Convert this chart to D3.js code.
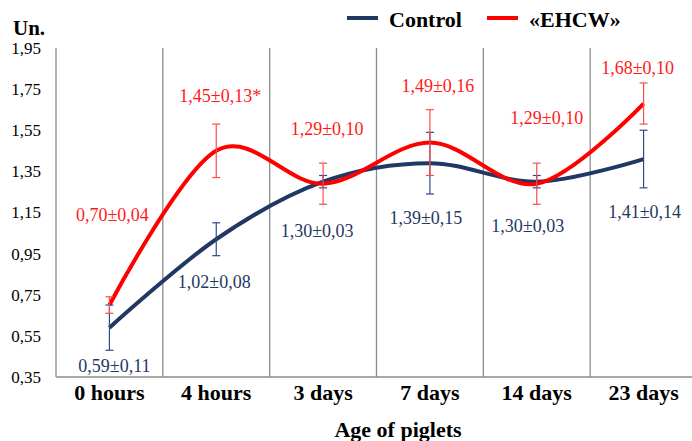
<!DOCTYPE html>
<html>
<head>
<meta charset="utf-8">
<script src="https://cdn.jsdelivr.net/npm/d3@7"></script>
<style>
  body { margin: 0; background: #fff; }
  svg { display: block; font-family: "Liberation Serif", "Times New Roman", serif; }
</style>
</head>
<body>
<svg width="692" height="441"></svg>
<script>
// chart data
const categories = ["0 hours", "4 hours", "3 days", "7 days", "14 days", "23 days"];
const controlMean = [0.59, 1.02, 1.30, 1.39, 1.30, 1.41];
const controlErr = [0.11, 0.08, 0.03, 0.15, 0.03, 0.14];
const ehcwMean = [0.70, 1.45, 1.29, 1.49, 1.29, 1.68];
const ehcwErr = [0.04, 0.13, 0.10, 0.16, 0.10, 0.10];
const ehcwMark = ["", "*", "", "", "", ""];
const yTicks = [0.35, 0.55, 0.75, 0.95, 1.15, 1.35, 1.55, 1.75, 1.95];

// label nudges (pixels) relative to each point
const ehcwLabelOffset = [[3, -84], [4, -49], [4, -49], [8, -51], [10, -60], [-6, -30]];
const controlLabelOffset = [[5, 44], [-2, 49], [-6, 55], [-4, 61], [-9, 50], [1, 59]];

const navy = "#1f3864";
const red = "#ff0000";
const grid = "#8c8c8c";

const svg = d3.select("svg");
const margin = { left: 56, right: 697, top: 48, bottom: 377 };

const x = d3.scaleBand().domain(categories).range([margin.left, margin.right]).padding(0);
const y = d3.scaleLinear().domain([0.35, 1.95]).range([margin.bottom, margin.top]);
const cx = c => x(c) + x.bandwidth() / 2;
const fmt = v => d3.format(".2f")(v).replace(".", ",");

// category separators
svg.append("g")
  .selectAll("line")
  .data(categories)
  .enter().append("line")
  .attr("x1", d => x(d)).attr("x2", d => x(d))
  .attr("y1", y(1.95)).attr("y2", y(0.35))
  .attr("stroke", grid).attr("stroke-width", 1.3);

// bottom axis line
svg.append("line")
  .attr("x1", margin.left).attr("x2", margin.right)
  .attr("y1", y(0.35)).attr("y2", y(0.35))
  .attr("stroke", grid).attr("stroke-width", 1.3);

// y axis
const yAxis = svg.append("g")
  .attr("transform", "translate(" + margin.left + ",0)")
  .call(d3.axisLeft(y).tickValues(yTicks).tickFormat(fmt).tickSize(0).tickPadding(15));
yAxis.select(".domain").remove();
yAxis.selectAll("text")
  .attr("font-family", "Liberation Serif")
  .attr("font-size", 17)
  .attr("fill", "#000");

// x axis labels
const xAxis = svg.append("g")
  .attr("transform", "translate(0," + y(0.35) + ")")
  .call(d3.axisBottom(x).tickSize(0).tickPadding(8));
xAxis.select(".domain").remove();
xAxis.selectAll("text")
  .attr("font-family", "Liberation Serif")
  .attr("font-size", 22)
  .attr("font-weight", "bold")
  .attr("fill", "#000")
  .attr("dy", "0.68em");

svg.append("text")
  .attr("x", 13).attr("y", 35)
  .attr("font-size", 21).attr("font-weight", "bold")
  .text("Un.");

svg.append("text")
  .attr("x", 398).attr("y", 437)
  .attr("text-anchor", "middle")
  .attr("font-size", 22).attr("font-weight", "bold")
  .text("Age of piglets");

// lines
const line = d3.line()
  .x(d => cx(d.cat))
  .y(d => y(d.v))
  .curve(d3.curveCardinal.tension(0));

const series = [
  { name: "Control", color: navy, bar: "#2b4a8c", mean: controlMean, err: controlErr, off: controlLabelOffset, mark: categories.map(() => "") },
  { name: "«EHCW»", color: red, bar: "#ff4a4a", mean: ehcwMean, err: ehcwErr, off: ehcwLabelOffset, mark: ehcwMark }
];

series.forEach(s => {
  const pts = categories.map((c, i) => ({ cat: c, v: s.mean[i], e: s.err[i] }));
  svg.append("path")
    .attr("d", line(pts))
    .attr("fill", "none")
    .attr("stroke", s.color)
    .attr("stroke-width", 4);
});

// error bars
series.forEach(s => {
  const g = svg.append("g").attr("stroke", s.bar).attr("stroke-width", 1.2);
  categories.forEach((c, i) => {
    const xc = cx(c);
    const lo = y(s.mean[i] - s.err[i]);
    const hi = y(s.mean[i] + s.err[i]);
    g.append("line").attr("x1", xc).attr("x2", xc).attr("y1", lo).attr("y2", hi);
    g.append("line").attr("x1", xc - 4).attr("x2", xc + 4).attr("y1", lo).attr("y2", lo);
    g.append("line").attr("x1", xc - 4).attr("x2", xc + 4).attr("y1", hi).attr("y2", hi);
  });
});

// value labels
series.forEach(s => {
  svg.append("g")
    .selectAll("text")
    .data(categories)
    .enter().append("text")
    .attr("x", (c, i) => cx(c) + s.off[i][0])
    .attr("y", (c, i) => y(s.mean[i]) + s.off[i][1])
    .attr("text-anchor", "middle")
    .attr("font-size", 18)
    .attr("fill", s.color === red ? "#ff1a1a" : navy)
    .text((c, i) => fmt(s.mean[i]) + "±" + fmt(s.err[i]) + s.mark[i]);
});

// legend
const legend = [
  { name: "Control", color: navy, x: 347 },
  { name: "«EHCW»", color: red, x: 487 }
];
const lg = svg.append("g");
legend.forEach(l => {
  lg.append("line")
    .attr("x1", l.x).attr("x2", l.x + 31)
    .attr("y1", 18).attr("y2", 18)
    .attr("stroke", l.color).attr("stroke-width", 4);
  lg.append("text")
    .attr("x", l.x + 42).attr("y", 26.5)
    .attr("font-size", 22).attr("font-weight", "bold")
    .text(l.name);
});
</script>
</body>
</html>
